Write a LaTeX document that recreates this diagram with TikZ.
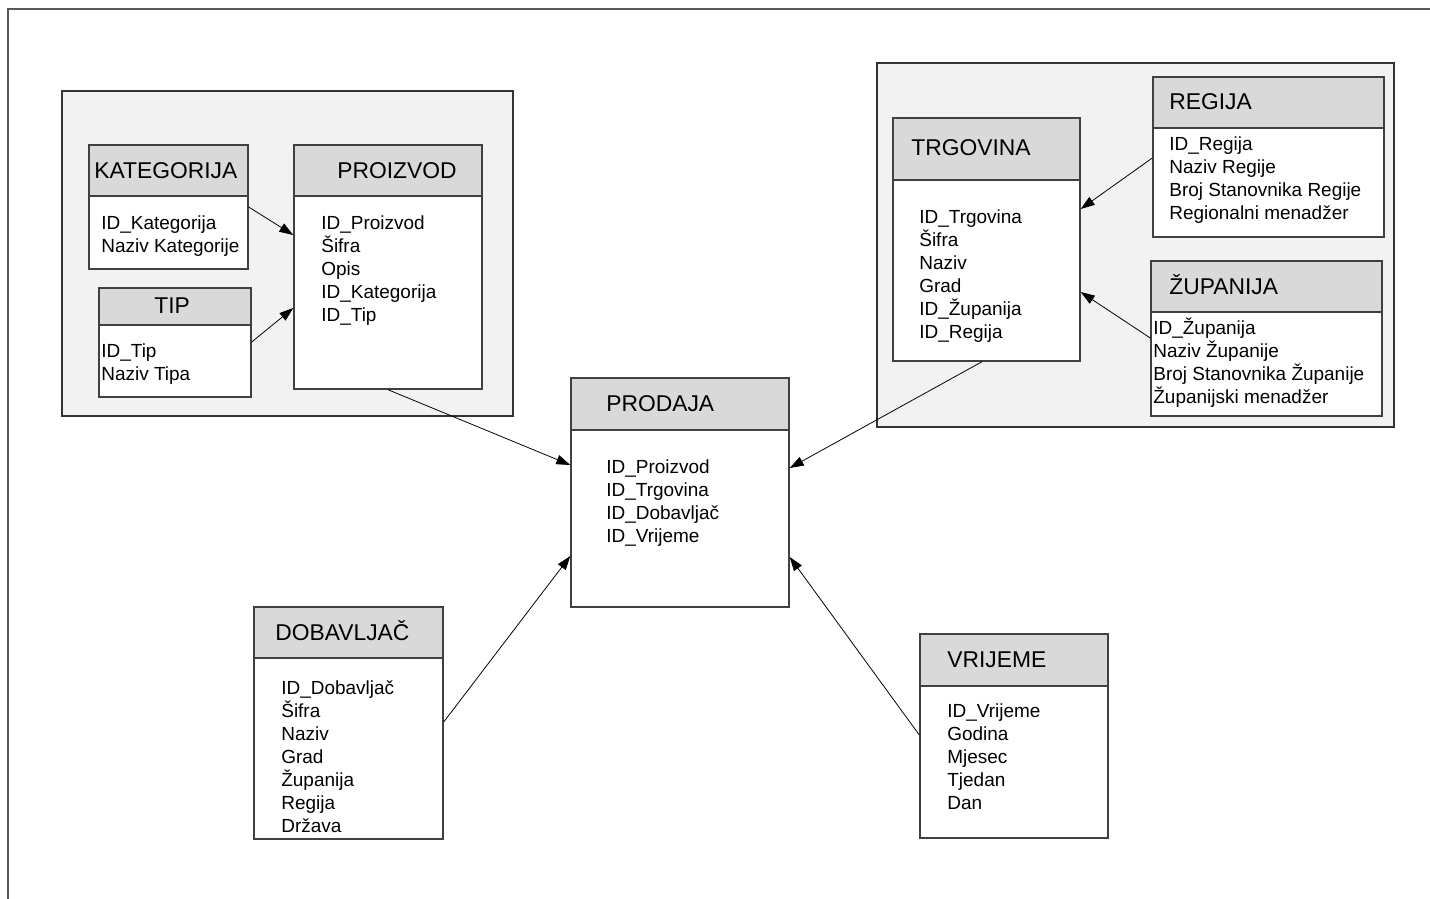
\documentclass[tikz,border=0pt]{standalone}
\usepackage{fontspec}
\setmainfont{Liberation Sans}
\usepackage{tikz}
\usetikzlibrary{arrows.meta}
\usetikzlibrary{fit}

\tikzset{
  grp/.style={draw=black!80, fill=black!5, line width=0.6pt, inner sep=0pt},
  hdr/.style={draw=black!75, fill=black!15, line width=0.8pt, inner sep=0pt},
  tbody/.style={draw=black!75, fill=white, line width=0.8pt, inner sep=0pt},
  ttl/.style={anchor=base west, inner sep=0pt, font=\fontsize{13}{15}\selectfont},
  % fields are placed at the baseline of their last line
  fields/.style={anchor=base west, align=left, inner sep=0pt, font=\fontsize{10.8}{13.09}\selectfont},
  link/.style={-{Triangle[length=2.8mm,width=1.9mm]}, line width=0.45pt},
}

\begin{document}
\begin{tikzpicture}[x=0.02cm, y=-0.02cm]
  \useasboundingbox (0,0) rectangle (1430,899);
  \draw[black!65, line width=0.6pt] (8,899) -- (8,9) -- (1430,9);

  % groups
  \node[grp, fit={(62,91) (513,416)}] (przGrp) {};
  \node[grp, fit={(877,63) (1394,427)}] (trgGrp) {};

  % kategorija
  \node[tbody, fit={(89,196) (248,269)}] (katB) {};
  \node[hdr, fit={(89,145) (248,196)}] (katH) {};
  \node[ttl] (katT) at (94,178) {KATEGORIJA};
  \node[fields] (katF) at (101,252) {ID\_Kategorija\\Naziv Kategorije};

  % tip
  \node[tbody, fit={(99,325) (251,397)}] (tipB) {};
  \node[hdr, fit={(99,288) (251,325)}] (tipH) {};
  \node[ttl] (tipT) at (154,313) {TIP};
  \node[fields] (tipF) at (101,380) {ID\_Tip\\Naziv Tipa};

  % proizvod
  \node[tbody, fit={(294,196) (482,389)}] (przB) {};
  \node[hdr, fit={(294,145) (482,196)}] (przH) {};
  \node[ttl] (przT) at (337,178) {PROIZVOD};
  \node[fields] (przF) at (321,321) {ID\_Proizvod\\Šifra\\Opis\\ID\_Kategorija\\ID\_Tip};

  % trgovina
  \node[tbody, fit={(893,180) (1080,361)}] (trgB) {};
  \node[hdr, fit={(893,118) (1080,180)}] (trgH) {};
  \node[ttl] (trgT) at (911,155) {TRGOVINA};
  \node[fields] (trgF) at (919,338) {ID\_Trgovina\\Šifra\\Naziv\\Grad\\ID\_Županija\\ID\_Regija};

  % regija
  \node[tbody, fit={(1153,128) (1384,237)}] (regB) {};
  \node[hdr, fit={(1153,77) (1384,128)}] (regH) {};
  \node[ttl] (regT) at (1169,109) {REGIJA};
  \node[fields] (regF) at (1169,219) {ID\_Regija\\Naziv Regije\\Broj Stanovnika Regije\\Regionalni menadžer};

  % zupanija
  \node[tbody, fit={(1151,312) (1382,416)}] (zupB) {};
  \node[hdr, fit={(1151,261) (1382,312)}] (zupH) {};
  \node[ttl] (zupT) at (1169,294) {ŽUPANIJA};
  \node[fields] (zupF) at (1153,403) {ID\_Županija\\Naziv Županije\\Broj Stanovnika Županije\\Županijski menadžer};

  % prodaja
  \node[tbody, fit={(571,430) (789,607)}] (prdB) {};
  \node[hdr, fit={(571,378) (789,430)}] (prdH) {};
  \node[ttl] (prdT) at (606,411) {PRODAJA};
  \node[fields] (prdF) at (606,542) {ID\_Proizvod\\ID\_Trgovina\\ID\_Dobavljač\\ID\_Vrijeme};

  % dobavljac
  \node[tbody, fit={(254,658) (443,839)}] (dobB) {};
  \node[hdr, fit={(254,607) (443,658)}] (dobH) {};
  \node[ttl] (dobT) at (275,640) {DOBAVLJAČ};
  \node[fields] (dobF) at (281,832) {ID\_Dobavljač\\Šifra\\Naziv\\Grad\\Županija\\Regija\\Država};

  % vrijeme
  \node[tbody, fit={(920,686) (1108,838)}] (vriB) {};
  \node[hdr, fit={(920,634) (1108,686)}] (vriH) {};
  \node[ttl] (vriT) at (947,667) {VRIJEME};
  \node[fields] (vriF) at (947,809) {ID\_Vrijeme\\Godina\\Mjesec\\Tjedan\\Dan};

  \path[link]
    (katB.east |- 0,207) edge (przB.west |- 0,235)
    (tipB.east |- 0,342) edge (przB.west |- 0,308)
    (przB.south -| 388,0) edge (prdB.west |- 0,465)
    (regB.west |- 0,158) edge (trgB.east |- 0,209)
    (zupB.west |- 0,338) edge (trgB.east |- 0,292)
    (trgB.south -| 982,0) edge (prdB.east |- 0,468)
    (dobB.east |- 0,722) edge (prdB.west |- 0,556)
    (vriB.west |- 0,735) edge (prdB.east |- 0,557);
\end{tikzpicture}
\end{document}
